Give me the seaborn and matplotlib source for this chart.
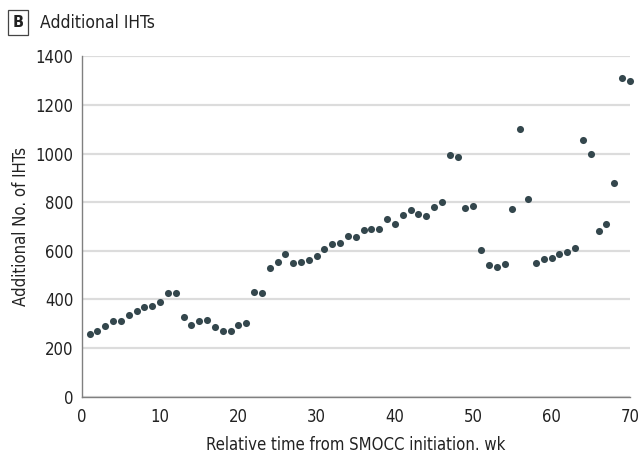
import matplotlib
matplotlib.use("Agg")
import matplotlib.pyplot as plt
import seaborn as sns
import pandas as pd

weeks = list(range(1, 71))
additional_ihts = [
    258, 272, 292, 310, 310, 338, 352, 368, 372, 390,
    426, 426, 329, 297, 312, 315, 288, 270, 270, 297,
    305, 430, 425, 531, 554, 589, 551, 556, 563, 577,
    608, 627, 633, 660, 657, 686, 688, 688, 732, 710,
    747, 767, 750, 745, 782, 801, 995, 986, 774, 784,
    603, 540, 533, 545, 772, 1100, 814, 552, 568, 569,
    587, 597, 611, 1056, 999, 682, 711, 880, 1312, 1300,
]
y_ticks = [0, 200, 400, 600, 800, 1000, 1200, 1400]
x_ticks = [0, 10, 20, 30, 40, 50, 60, 70]

df = pd.DataFrame({"week": weeks, "ihts": additional_ihts})

sns.set_style("white")
plt.rcParams['font.family'] = ['DejaVu Sans']
plt.rcParams['font.stretch'] = 'condensed'

fig = plt.figure(figsize=(6.44, 4.53), dpi=100)
ax = fig.add_axes([0.127, 0.124, 0.851, 0.752])

sns.scatterplot(data=df, x="week", y="ihts", ax=ax, color="#34474d",
                s=26, linewidth=0, clip_on=False, zorder=3)

ax.set_xlim(0, 70)
ax.set_ylim(0, 1400)
ax.set_xticks(x_ticks)
ax.set_yticks(y_ticks)
ax.yaxis.grid(True, color="#dcdcdc", linewidth=1.6)
ax.xaxis.grid(False)
ax.set_axisbelow(True)
for s in ["top", "right"]:
    ax.spines[s].set_visible(False)
for s in ["left", "bottom"]:
    ax.spines[s].set_color("#808080")
    ax.spines[s].set_linewidth(1.0)
ax.tick_params(axis="x", pad=3)
ax.tick_params(axis="both", which="both", direction="out", length=5, width=1,
               color="#555555", labelsize=12, labelcolor="#222222")
ax.tick_params(axis="y", pad=1)
ax.set_xlabel("Relative time from SMOCC initiation. wk", fontsize=12,
              color="#222222", labelpad=7)
ax.set_ylabel("Additional No. of IHTs", fontsize=12, color="#222222")

fig.text(0.028, 0.95, "B", fontsize=11.5, fontweight="bold", color="#222222",
         ha="center", va="center",
         bbox=dict(boxstyle="square,pad=0.3", fc="white", ec="#444444", lw=0.9))
fig.text(0.062, 0.95, "Additional IHTs", fontsize=12.5, color="#222222",
         ha="left", va="center")

fig.savefig("out.png", dpi=100)
